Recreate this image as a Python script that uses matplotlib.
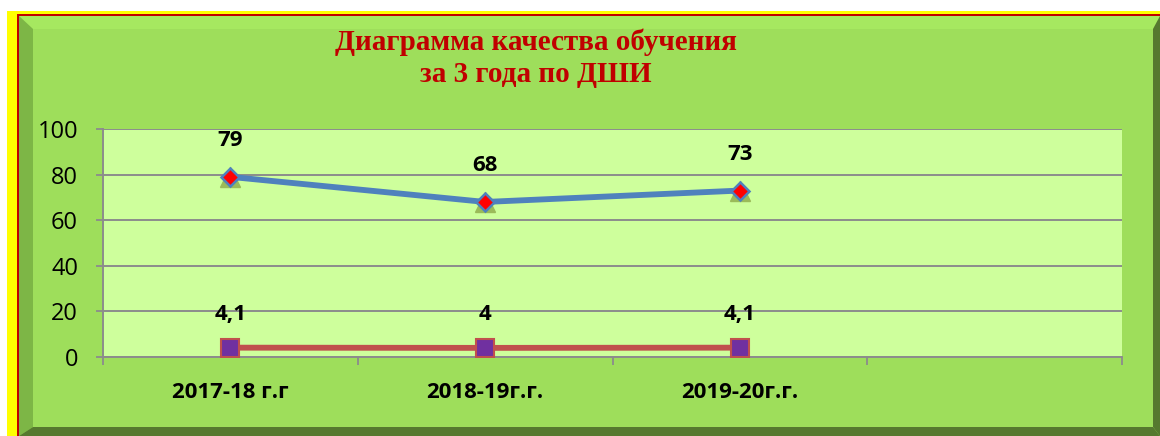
import matplotlib.pyplot as plt
from matplotlib.patches import Polygon

# data
years = ['2017-18 г.г', '2018-19г.г.', '2019-20г.г.']
quality = [79, 68, 73]
quality_hidden = [79, 68, 73]
avg_score = [4.1, 4.0, 4.1]
avg_labels = ['4,1', '4', '4,1']
n_slots = 4  # the chart keeps one empty category slot on the right

W, H = 1160, 436
fig = plt.figure(figsize=(W / 100, H / 100), dpi=100, facecolor='white')


def px(points):
    # pixel coords (from the top-left) -> figure fraction
    return [(x / W, 1 - y / H) for x, y in points]


def fig_poly(points, color, z):
    fig.add_artist(Polygon(px(points), closed=True, facecolor=color,
                           edgecolor='none', transform=fig.transFigure, zorder=z))


# outer frame: yellow, thin red line, bevelled green panel
fig_poly([(7, 11), (1160, 11), (1160, 436), (7, 436)], '#FFFF00', 0)
fig_poly([(17, 14), (1160, 14), (1160, 436), (17, 436)], '#C00000', 0.1)
fig_poly([(19, 16), (1160, 16), (1160, 436), (19, 436)], '#9EDE5B', 0.2)
fig_poly([(19, 16), (1160, 16), (1153, 29), (33, 29)], '#A6E860', 0.3)
fig_poly([(19, 16), (33, 29), (33, 427), (19, 436)], '#7DB646', 0.3)
fig_poly([(1160, 16), (1160, 436), (1153, 427), (1153, 29)], '#56792F', 0.3)
fig_poly([(19, 436), (33, 427), (1153, 427), (1160, 436)], '#56792F', 0.3)

left, right, top, bottom = 103, 1122, 129, 357
ax = fig.add_axes([left / W, 1 - bottom / H, (right - left) / W, (bottom - top) / H])
ax.set_facecolor('#CEFF9C')
ax.set_zorder(1)

x = list(range(len(years)))
ax.plot(x, quality_hidden, linestyle='none', marker='^', ms=14,
        mfc='#9BBB59', mec='#9BBB59', zorder=3)
ax.plot(x, quality, color='#4F81BD', lw=4.2, marker='D', ms=9,
        mfc='#FF0000', mec='#4F81BD', mew=1.8, zorder=4)
ax.plot(x, avg_score, color='#C0504D', lw=4.2, marker='s', ms=13,
        mfc='#7030A0', mec='#C0504D', mew=1.5, zorder=4)

for xi, v in zip(x, quality):
    ax.annotate(str(v), (xi, v), xytext=(0, 26), textcoords='offset points',
                ha='center', va='center', fontsize=16, fontweight='bold',
                family='Open Sans', color='black')
for xi, v, lab in zip(x, avg_score, avg_labels):
    ax.annotate(lab, (xi, v), xytext=(0, 24), textcoords='offset points',
                ha='center', va='center', fontsize=16, fontweight='bold',
                family='Open Sans', color='black')

ax.set_xlim(-0.5, n_slots - 0.5)
ax.set_ylim(0, 100)
ax.set_yticks([0, 20, 40, 60, 80, 100])
ax.set_xticks(x)
ax.set_xticklabels(years, fontsize=16, fontweight='bold', family='Open Sans')
ax.set_xticks([i - 0.5 for i in range(n_slots + 1)], minor=True)
ax.tick_params(axis='x', which='major', length=0, pad=18)
ax.tick_params(axis='x', which='minor', length=6, width=1.3, color='#8C8C8C')
ax.tick_params(axis='y', length=5, width=1.3, color='#8C8C8C', pad=13)
for lab in ax.get_yticklabels():
    lab.set_family('Open Sans')
    lab.set_fontsize(17)

ax.grid(axis='y', color='#8C8C8C', lw=1.4)
ax.set_axisbelow(True)
for s in ['top', 'right']:
    ax.spines[s].set_visible(False)
for s in ['left', 'bottom']:
    ax.spines[s].set_color('#8C8C8C')
    ax.spines[s].set_linewidth(1.4)

fig.text(536 / W, 1 - 58 / H, 'Диаграмма качества обучения\nза 3 года по ДШИ',
         ha='center', va='center', fontsize=21, fontweight='bold',
         family='Liberation Serif', color='#C00000', linespacing=1.22, zorder=5)

fig.savefig('out.png', dpi=100, facecolor='white')
